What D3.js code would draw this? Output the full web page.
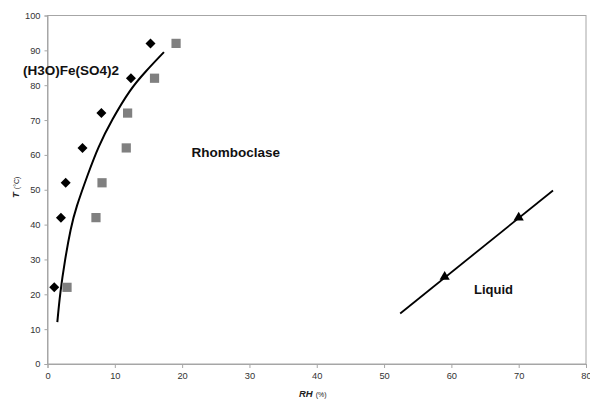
<!DOCTYPE html>
<html>
<head>
<meta charset="utf-8">
<script src="https://cdn.jsdelivr.net/npm/d3@7"></script>
<style>
  body { margin: 0; background: #fff; }
  svg { font-family: "Liberation Sans", Arial, sans-serif; }
  .axis path, .axis line { stroke: #a6a6a6; }
  .axis text { fill: #333; font-size: 9.3px; }
</style>
</head>
<body>
<script>
// data
var hydroniumRH = [1, 2, 2.7, 5.2, 8, 12.4, 15.3];
var hydroniumT  = [22, 42, 52, 62, 72, 82, 92];

var rhombRH = [2.9, 7.2, 8.1, 11.7, 11.9, 15.9, 19.1];
var rhombT  = [22, 42, 52, 62, 72, 82, 92];

// boundary curve (trend line)
var curveRH = [1.46, 1.86, 2.6, 3.45, 4.2, 6.06, 7.55, 9.54, 12.3, 14.5, 17.3];
var curveT  = [12, 20.2, 30, 39, 44.7, 54.8, 62.4, 70, 78.9, 83.8, 89.5];

// liquid line + triangles
var liquidLineRH = [52.4, 75.1];
var liquidLineT  = [14.5, 49.8];
var liquidRH = [59, 70];
var liquidT  = [25, 42];

var xTicks = [0, 10, 20, 30, 40, 50, 60, 70, 80];
var yTicks = [0, 10, 20, 30, 40, 50, 60, 70, 80, 90, 100];

var width = 590, height = 399;
var margin = {top: 15.5, right: 4, bottom: 35, left: 47.5};

var svg = d3.select("body").append("svg")
    .attr("width", width)
    .attr("height", height);

var x = d3.scaleLinear().domain([0, 80]).range([margin.left, width - margin.right]);
var y = d3.scaleLinear().domain([0, 100]).range([height - margin.bottom, margin.top]);

// plot frame
svg.append("rect")
    .attr("x", x(0)).attr("y", y(100))
    .attr("width", x(80) - x(0)).attr("height", y(0) - y(100))
    .attr("fill", "none").attr("stroke", "#a6a6a6");

svg.append("g")
    .attr("class", "axis")
    .attr("transform", "translate(0," + y(0) + ")")
    .call(d3.axisBottom(x).tickValues(xTicks).tickSize(4).tickPadding(4));

svg.append("g")
    .attr("class", "axis")
    .attr("transform", "translate(" + x(0) + ",0)")
    .call(d3.axisLeft(y).tickValues(yTicks).tickSize(3).tickPadding(4));

// axis titles
var xt = svg.append("text")
    .attr("x", 299).attr("y", 396.5)
    .attr("fill", "#222");
xt.append("tspan").attr("font-weight", "bold").attr("font-style", "italic").attr("font-size", "9.5px").text("RH");
xt.append("tspan").attr("font-size", "7px").attr("dx", 3).text("(%)");

var yt = svg.append("text")
    .attr("transform", "translate(19,198) rotate(-90)")
    .attr("fill", "#222");
yt.append("tspan").attr("font-weight", "bold").attr("font-style", "italic").attr("font-size", "9.5px").text("T");
yt.append("tspan").attr("font-size", "7px").attr("dx", 3).text("(°C)");

// curve
var line = d3.line()
    .x(function(d) { return x(d[0]); })
    .y(function(d) { return y(d[1]); });

svg.append("path")
    .datum(d3.zip(curveRH, curveT))
    .attr("d", line.curve(d3.curveBasis))
    .attr("fill", "none")
    .attr("stroke", "#000")
    .attr("stroke-width", 2);

svg.append("path")
    .datum(d3.zip(liquidLineRH, liquidLineT))
    .attr("d", d3.line().x(function(d) { return x(d[0]); }).y(function(d) { return y(d[1]); }))
    .attr("fill", "none")
    .attr("stroke", "#000")
    .attr("stroke-width", 1.8);

// gray squares
svg.append("g").selectAll("path")
    .data(d3.zip(rhombRH, rhombT))
  .enter().append("path")
    .attr("transform", function(d) { return "translate(" + x(d[0]) + "," + y(d[1]) + ")"; })
    .attr("d", d3.symbol().type(d3.symbolSquare).size(85))
    .attr("fill", "#808080");

// black diamonds
svg.append("g").selectAll("path")
    .data(d3.zip(hydroniumRH, hydroniumT))
  .enter().append("path")
    .attr("transform", function(d) { return "translate(" + x(d[0]) + "," + y(d[1]) + ") rotate(45)"; })
    .attr("d", d3.symbol().type(d3.symbolSquare).size(50))
    .attr("fill", "#000");

// triangles
svg.append("g").selectAll("path")
    .data(d3.zip(liquidRH, liquidT))
  .enter().append("path")
    .attr("transform", function(d) { return "translate(" + x(d[0]) + "," + y(d[1]) + ")"; })
    .attr("d", d3.symbol().type(d3.symbolTriangle).size(45))
    .attr("fill", "#000");

// region labels
svg.append("text").attr("x", 23).attr("y", 75)
    .attr("font-size", "13.5px").attr("font-weight", "bold").attr("fill", "#111")
    .text("(H3O)Fe(SO4)2");
svg.append("text").attr("x", 191.5).attr("y", 156.5)
    .attr("font-size", "13.5px").attr("font-weight", "bold").attr("fill", "#111")
    .text("Rhomboclase");
svg.append("text").attr("x", 474).attr("y", 293.5)
    .attr("font-size", "13px").attr("font-weight", "bold").attr("fill", "#111")
    .text("Liquid");
</script>
</body>
</html>
